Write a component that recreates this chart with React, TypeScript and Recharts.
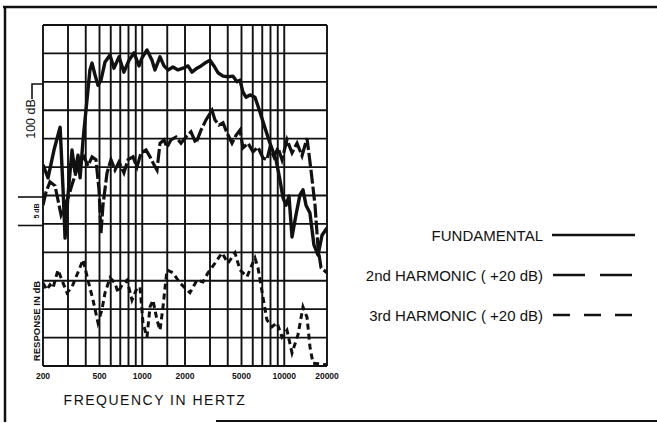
import { LineChart, Line, XAxis, YAxis, ReferenceLine } from "recharts"

// frequency (Hz) grid of the log paper and dB grid (5 dB per division)
const gridFreqs = [200, 300, 400, 500, 600, 700, 800, 900, 1000, 1500, 2000, 3000, 4000, 5000, 6000, 7000, 8000, 9000, 10000, 20000]
const gridLevels = [50, 55, 60, 65, 70, 75, 80, 85, 90, 95, 100, 105, 110]
const freqTicks = [200, 500, 1000, 2000, 5000, 10000, 20000]

// fundamental
const fundFreq = [200, 217, 239, 264, 277, 286, 300, 320, 336, 353, 365, 383, 408, 428, 443, 465, 488, 512, 547, 593, 632, 686, 743, 807, 875, 949, 995, 1080, 1171, 1229, 1334, 1423, 1518, 1646, 1785, 1936, 2100, 2240, 2430, 2593, 2765, 3000, 3200, 3414, 3706, 4018, 4357, 4648, 4878, 5118, 5380, 5737, 6220, 6745, 7312, 7936, 8750, 9330, 9800, 10290, 10800, 11340, 12100, 12900, 13550, 14230, 15170, 16180, 17290, 18450, 20000]
const fundDb = [85.4, 83.1, 88.0, 92.0, 81.0, 72.5, 80.1, 88.0, 84.1, 87.1, 83.1, 89.8, 96.8, 102.1, 103.3, 101.2, 99.4, 100.3, 103.5, 104.7, 102.4, 104.4, 101.7, 103.8, 105.1, 102.8, 104.2, 105.6, 103.8, 102.1, 104.4, 102.8, 102.1, 102.6, 102.1, 102.4, 102.8, 101.7, 102.4, 102.8, 103.3, 103.8, 102.8, 101.6, 101.0, 100.9, 101.0, 100.0, 100.3, 98.2, 97.3, 97.7, 97.3, 94.7, 91.9, 89.2, 86.3, 82.7, 79.6, 78.3, 79.9, 72.7, 76.6, 80.1, 81.0, 78.3, 76.9, 71.3, 69.5, 73.0, 74.3]

// 2nd harmonic (+20 dB)
const h2Freq = [200, 210, 224, 243, 255, 268, 286, 305, 320, 342, 365, 389, 415, 443, 472, 496, 512, 529, 565, 602, 643, 686, 743, 794, 861, 918, 980, 1063, 1134, 1210, 1270, 1334, 1423, 1493, 1593, 1729, 1874, 2033, 2203, 2389, 2593, 2812, 3098, 3253, 3470, 3706, 3953, 4286, 4573, 4878, 5118, 5557, 6025, 6530, 7082, 7550, 7936, 8470, 9040, 9640, 10450, 11340, 12300, 13340, 14460, 15420, 16470, 17290, 18150, 20000]
const h2Db = [78.3, 80.6, 82.4, 81.7, 79.2, 76.6, 78.3, 80.1, 81.9, 84.1, 85.9, 86.8, 85.2, 86.8, 86.3, 81.0, 73.4, 78.3, 84.0, 86.3, 84.5, 85.9, 84.0, 86.3, 86.8, 85.0, 87.5, 88.0, 86.8, 85.4, 84.5, 89.2, 89.8, 88.5, 89.8, 90.3, 89.2, 90.3, 91.2, 89.2, 91.5, 93.3, 95.0, 93.3, 92.4, 92.8, 91.0, 89.2, 90.6, 91.5, 88.4, 89.2, 87.7, 88.5, 86.6, 86.3, 88.5, 86.8, 88.4, 86.3, 89.8, 87.5, 89.2, 87.0, 90.1, 84.5, 78.3, 70.8, 67.3, 66.4]

// 3rd harmonic (+20 dB)
const h3Freq = [200, 213, 224, 235, 255, 272, 295, 320, 353, 383, 415, 450, 488, 520, 547, 593, 643, 675, 720, 781, 847, 918, 964, 1012, 1080, 1134, 1190, 1270, 1334, 1400, 1493, 1646, 1844, 2168, 2430, 2677, 2904, 3253, 3646, 4018, 4500, 4878, 5467, 5927, 6220, 6530, 7082, 7550, 8195, 8890, 9640, 10450, 11340, 12500, 13550, 14460, 15170, 15930, 17290, 20000]
const h3Db = [64.6, 63.4, 64.3, 63.7, 66.9, 65.1, 62.9, 63.9, 66.5, 68.7, 65.1, 61.6, 57.6, 59.9, 62.9, 65.5, 64.6, 62.9, 64.3, 65.1, 61.6, 63.7, 63.9, 57.6, 55.1, 60.4, 61.6, 58.1, 56.3, 60.4, 66.9, 66.4, 64.6, 62.9, 65.1, 64.8, 66.4, 68.1, 69.9, 68.1, 69.9, 66.9, 65.7, 67.8, 69.0, 67.3, 62.1, 58.1, 56.9, 57.6, 55.1, 56.3, 52.3, 55.5, 60.4, 58.6, 53.4, 50.5, 50.4, 50.2]

const toRows = (freqs: number[], levels: number[]) => freqs.map((hz, i) => ({ hz, db: levels[i] }))

const fundamental = toRows(fundFreq, fundDb)
const second = toRows(h2Freq, h2Db)
const third = toRows(h3Freq, h3Db)

const ink = "#111"
const font = "'Liberation Sans', Arial, Helvetica, sans-serif"

export default function App() {
  return (
    <div style={{ position: "absolute", left: 0, top: 0, width: 657, height: 423, background: "#fff" }}>
      <LineChart width={657} height={423} margin={{ top: 25, right: 330, bottom: 37, left: 43 }}>
        <XAxis
          dataKey="hz"
          type="number"
          scale="log"
          domain={[200, 20000]}
          allowDataOverflow
          ticks={freqTicks}
          height={20}
          tickSize={0}
          tickMargin={7}
          axisLine={false}
          tickLine={false}
          tick={{ fill: ink, fontSize: 8.5, fontWeight: 700, fontFamily: font }}
        />
        <YAxis type="number" domain={[50, 110]} hide allowDataOverflow />
        {gridLevels.map((v) => (
          <ReferenceLine key={"h" + v} y={v} stroke={ink} strokeWidth={1.9} />
        ))}
        {gridFreqs.map((f) => (
          <ReferenceLine key={"v" + f} x={f} stroke={ink} strokeWidth={1.9} />
        ))}
        <Line data={third} dataKey="db" type="linear" stroke={ink} strokeWidth={3} strokeDasharray="6 4" dot={false} isAnimationActive={false} />
        <Line data={second} dataKey="db" type="linear" stroke={ink} strokeWidth={3.2} strokeDasharray="14 3" dot={false} isAnimationActive={false} />
        <Line data={fundamental} dataKey="db" type="linear" stroke={ink} strokeWidth={3.4} strokeLinejoin="round" dot={false} isAnimationActive={false} />
      </LineChart>

      <svg width={657} height={423} style={{ position: "absolute", left: 0, top: 0, pointerEvents: "none" }} fontFamily={font}>
        {/* frame */}
        <line x1={3} y1={7} x2={657} y2={7} stroke={ink} strokeWidth={2.5} />
        <line x1={5} y1={6} x2={5} y2={422} stroke={ink} strokeWidth={2.5} />
        <line x1={216} y1={421} x2={657} y2={421} stroke={ink} strokeWidth={2} />

        {/* 100 dB reference */}
        <path d="M32,99 V84 H43" fill="none" stroke={ink} strokeWidth={1.6} />
        <text transform="translate(35,119) rotate(-90)" textAnchor="middle" fontSize={12.5} fill={ink}>100 dB</text>

        {/* 5 dB scale */}
        <line x1={18} y1={197} x2={43} y2={197} stroke={ink} strokeWidth={1.6} />
        <line x1={18} y1={225.5} x2={43} y2={225.5} stroke={ink} strokeWidth={1.6} />
        <text transform="translate(39,211) rotate(-90)" textAnchor="middle" fontSize={7} fontWeight={700} fill={ink}>5 dB</text>

        <text transform="translate(40,321) rotate(-90)" textAnchor="middle" fontSize={9.5} fontWeight={700} fill={ink}>RESPONSE IN dB</text>

        <text x={155} y={405} textAnchor="middle" fontSize={14} letterSpacing={1.5} fill={ink}>FREQUENCY IN HERTZ</text>

        {/* legend */}
        <text x={543} y={240.5} textAnchor="end" fontSize={15} fill={ink}>FUNDAMENTAL</text>
        <line x1={552} y1={235} x2={635} y2={235} stroke={ink} strokeWidth={2.5} />
        <text x={543} y={280.5} textAnchor="end" fontSize={15} fill={ink}>2nd HARMONIC ( +20 dB)</text>
        <line x1={553} y1={275} x2={632} y2={275} stroke={ink} strokeWidth={2.5} strokeDasharray="32 15" />
        <text x={543} y={320.5} textAnchor="end" fontSize={15} fill={ink}>3rd HARMONIC ( +20 dB)</text>
        <line x1={553} y1={315} x2={632} y2={315} stroke={ink} strokeWidth={2.5} strokeDasharray="17 14" />
      </svg>
    </div>
  )
}
